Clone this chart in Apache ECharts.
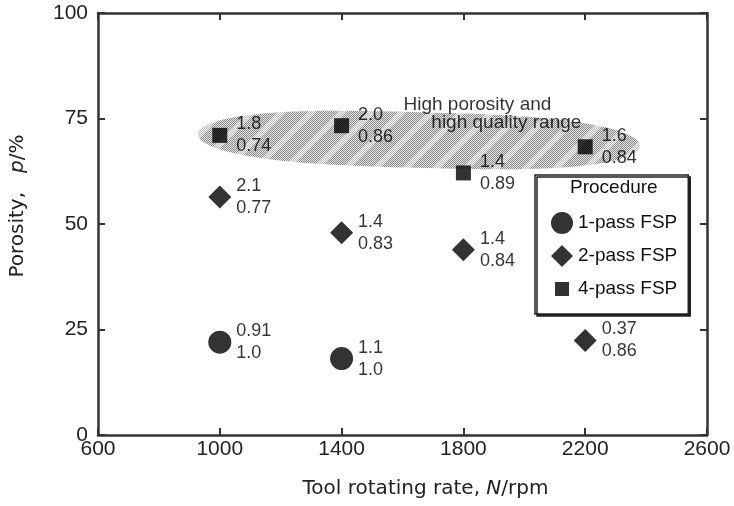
<!DOCTYPE html>
<html>
<head>
<meta charset="utf-8">
<script src="https://cdn.jsdelivr.net/npm/echarts@6/dist/echarts.min.js"></script>
<style>
  html, body { margin: 0; padding: 0; background: #fff; width: 734px; height: 506px; overflow: hidden; }
  #chart { width: 734px; height: 506px; }
</style>
</head>
<body>
<div id="chart"></div>
<script>
    // values
    const xTicks = [600, 1000, 1400, 1800, 2200, 2600]
    const yTicks = [0, 25, 50, 75, 100]

    const onePassN = [1000, 1400]
    const onePassP = [22.0, 18.1]
    const onePassText = ['0.91\n1.0', '1.1\n1.0']

    const twoPassN = [1000, 1400, 1800, 2200]
    const twoPassP = [56.4, 47.9, 43.9, 22.4]
    const twoPassText = ['2.1\n0.77', '1.4\n0.83', '1.4\n0.84', '0.37\n0.86']

    const fourPassN = [1000, 1400, 1800, 2200]
    const fourPassP = [71.0, 73.3, 62.1, 68.3]
    const fourPassText = ['1.8\n0.74', '2.0\n0.86', '1.4\n0.89', '1.6\n0.84']

    // hatched region: left end, right end, half height (data units)
    const rangeRegion = [[928, 71.3, 2380, 68.5, 6.6]]
    const noteText = ['High porosity and', 'high quality range']
    const notePos = [[1846, 78.2], [1941, 73.9]]

    const font = 'Liberation Sans, Arial, sans-serif'
    const axisColor = '#333'

    const makePoints = (xs, ys, texts) => xs.map((x, i) => ({
        value: [x, ys[i]],
        label: { formatter: texts[i] }
    }))

    // gray dotted fill with lighter diagonal bands
    const hatch = (() => {
        const size = 30
        const cv = document.createElement('canvas')
        cv.width = size
        cv.height = size
        const ctx = cv.getContext('2d')
        for (let y = 0; y < size; y++) {
            for (let x = 0; x < size; x++) {
                const dark = (x + y) % 2 === 0
                const band = ((x + y) % size) < 8
                ctx.fillStyle = dark ? (band ? '#c4c4c4' : '#8c8c8c') : (band ? '#ececec' : '#e2e2e2')
                ctx.fillRect(x, y, 1, 1)
            }
        }
        return { image: cv, repeat: 'repeat' }
    })()

    // smaller square icon for the legend
    const squareIcon = (() => {
        const cv = document.createElement('canvas')
        cv.width = 22
        cv.height = 22
        const ctx = cv.getContext('2d')
        ctx.fillStyle = '#000'
        ctx.fillRect(4, 4, 14, 14)
        return 'image://' + cv.toDataURL()
    })()

    const renderRegion = (params, api) => {
        const p1 = api.coord([api.value(0), api.value(1)])
        const p2 = api.coord([api.value(2), api.value(3)])
        const b = api.size([0, api.value(4)])[1]
        const cx = (p1[0] + p2[0]) / 2
        const cy = (p1[1] + p2[1]) / 2
        const dx = p2[0] - p1[0]
        const dy = p2[1] - p1[1]
        const a = Math.sqrt(dx * dx + dy * dy) / 2
        const th = Math.atan2(dy, dx)
        const pts = []
        for (let i = 0; i < 160; i++) {
            const t = i / 160 * Math.PI * 2
            const ct = Math.cos(t)
            const st = Math.sin(t)
            const x = a * Math.sign(ct) * Math.pow(Math.abs(ct), 2 / 3)
            const y = b * st
            pts.push([cx + x * Math.cos(th) - y * Math.sin(th), cy + x * Math.sin(th) + y * Math.cos(th)])
        }
        return {
            type: 'polygon',
            shape: { points: pts },
            style: { fill: hatch, stroke: null }
        }
    }

    const labelStyle = (dist) => ({
        show: true,
        position: 'right',
        distance: dist,
        fontFamily: font,
        fontSize: 18,
        lineHeight: 22,
        color: '#000'
    })

    const axisBase = {
        type: 'value',
        axisLine: { show: true, onZero: false, lineStyle: { color: axisColor, width: 2.5 } },
        axisTick: { show: true, inside: true, length: 7, lineStyle: { color: axisColor, width: 2 } },
        splitLine: { show: false }
    }

    const option = {
        animation: false,
        textStyle: { fontFamily: font },
        grid: { left: 97, right: 27, top: 13, bottom: 71 },
        xAxis: [
            Object.assign({}, axisBase, {
                min: xTicks[0],
                max: xTicks[xTicks.length - 1],
                interval: xTicks[1] - xTicks[0],
                position: 'bottom',
                axisLabel: { fontFamily: font, fontSize: 21, color: '#222', margin: 4, formatter: v => String(v) },
                name: '{t|Tool rotating rate, }{i|N}{t|/rpm}',
                nameLocation: 'middle',
                nameGap: 44,
                nameTextStyle: {
                    padding: [0, 0, 0, 46],
                    rich: {
                        t: { fontFamily: 'DejaVu Sans', fontSize: 20, color: '#222' },
                        i: { fontFamily: 'DejaVu Sans', fontSize: 20, fontStyle: 'italic', color: '#222' }
                    }
                }
            }),
            Object.assign({}, axisBase, {
                min: xTicks[0],
                max: xTicks[xTicks.length - 1],
                interval: xTicks[1] - xTicks[0],
                position: 'top',
                axisLabel: { show: false }
            })
        ],
        yAxis: [
            Object.assign({}, axisBase, {
                min: yTicks[0],
                max: yTicks[yTicks.length - 1],
                interval: yTicks[1] - yTicks[0],
                position: 'left',
                axisLabel: { fontFamily: font, fontSize: 21, color: '#222', margin: 10 },
                name: '{t|Porosity,   }{i|p}{t|/%}',
                nameLocation: 'middle',
                nameGap: 70,
                nameRotate: 90,
                nameTextStyle: {
                    padding: [0, 0, 0, 36],
                    rich: {
                        t: { fontFamily: 'DejaVu Sans', fontSize: 20, color: '#222' },
                        i: { fontFamily: 'DejaVu Sans', fontSize: 20, fontStyle: 'italic', color: '#222' }
                    }
                }
            }),
            Object.assign({}, axisBase, {
                min: yTicks[0],
                max: yTicks[yTicks.length - 1],
                interval: yTicks[1] - yTicks[0],
                position: 'right',
                axisLabel: { show: false }
            })
        ],
        legend: {
            orient: 'vertical',
            left: 535,
            top: 175,
            padding: [37, 11, 14, 16],
            itemWidth: 22,
            itemHeight: 22,
            itemGap: 11,
            backgroundColor: '#fff',
            borderColor: '#222',
            borderWidth: 1.5,
            shadowColor: '#222',
            shadowBlur: 0,
            shadowOffsetX: 2,
            shadowOffsetY: 2,
            textStyle: { fontFamily: font, fontSize: 19, color: '#111' },
            data: [
                { name: '1-pass FSP', icon: 'circle' },
                { name: '2-pass FSP', icon: 'diamond' },
                { name: '4-pass FSP', icon: squareIcon }
            ]
        },
        graphic: [{
            type: 'text',
            left: 570,
            top: 178,
            z: 100,
            style: { text: 'Procedure', fontFamily: font, fontSize: 19, fill: '#111' }
        }],
        series: [
            {
                type: 'custom',
                name: 'range',
                renderItem: renderRegion,
                data: rangeRegion,
                clip: true,
                silent: true,
                z: 1
            },
            {
                type: 'scatter',
                name: 'note',
                symbolSize: 0,
                silent: true,
                z: 3,
                data: notePos.map((p, i) => ({ value: p, label: { formatter: noteText[i] } })),
                label: { show: true, position: 'inside', fontFamily: font, fontSize: 19, color: '#000' }
            },
            {
                type: 'scatter',
                name: '1-pass FSP',
                symbol: 'circle',
                symbolSize: 23,
                itemStyle: { color: '#000' },
                label: labelStyle(5),
                z: 5,
                data: makePoints(onePassN, onePassP, onePassText)
            },
            {
                type: 'scatter',
                name: '2-pass FSP',
                symbol: 'diamond',
                symbolSize: 23,
                itemStyle: { color: '#000' },
                label: labelStyle(5),
                z: 5,
                data: makePoints(twoPassN, twoPassP, twoPassText)
            },
            {
                type: 'scatter',
                name: '4-pass FSP',
                symbol: 'rect',
                symbolSize: 15,
                itemStyle: { color: '#000' },
                label: labelStyle(9),
                z: 5,
                data: makePoints(fourPassN, fourPassP, fourPassText)
            }
        ]
    }

    const EC = echarts.init(document.getElementById('chart'))
    EC.setOption(option)
</script>
</body>
</html>
